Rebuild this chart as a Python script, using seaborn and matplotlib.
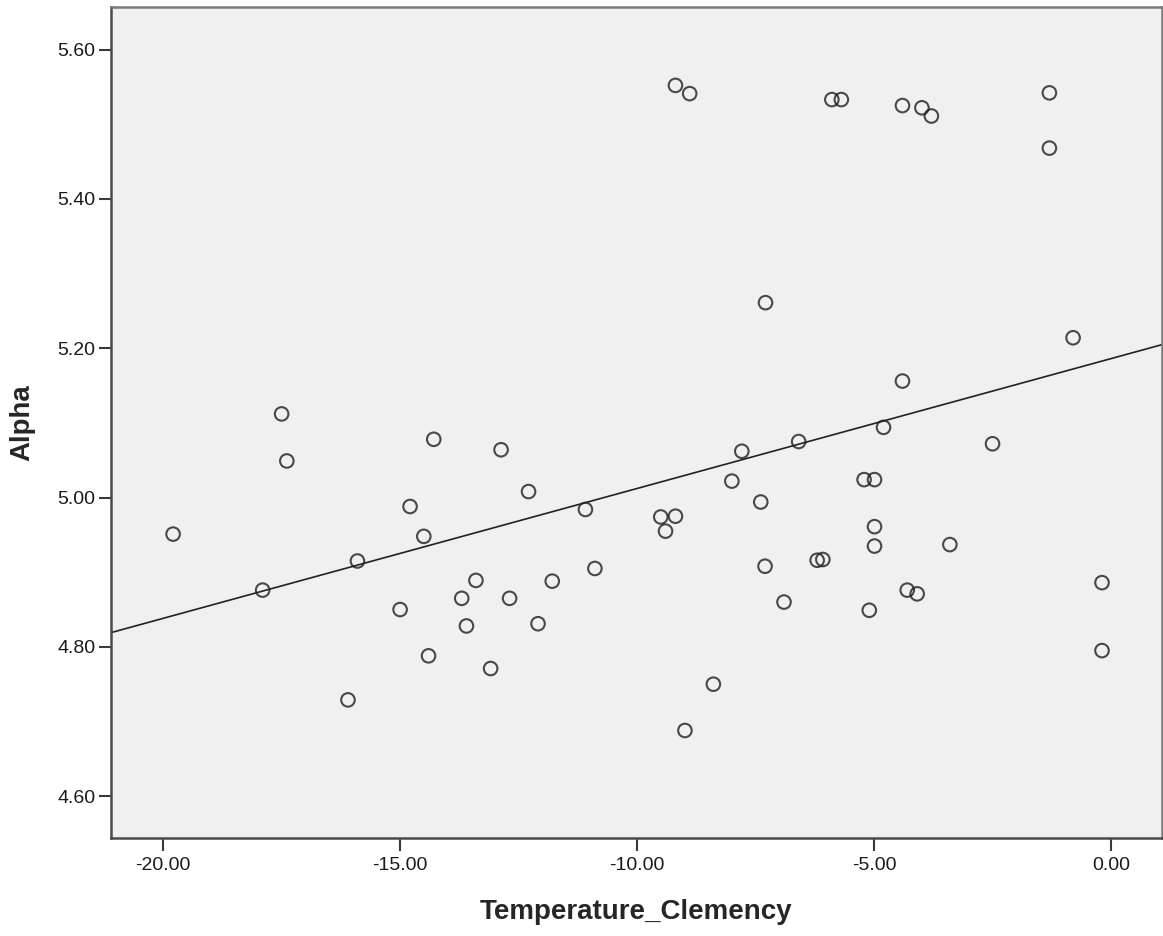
import matplotlib
matplotlib.use("Agg")
import matplotlib.pyplot as plt
import numpy as np
import pandas as pd
import seaborn as sns

# Observations
temperature_clemency = [
    -19.79, -17.90, -17.50, -17.39, -16.10, -15.90, -15.00, -14.79, -14.50, -14.40,
    -14.29, -13.70, -13.60, -13.40, -13.09, -12.87, -12.69, -12.29, -12.09, -11.79,
    -11.09, -10.89, -9.50, -9.40, -9.19, -9.19, -8.89, -8.99, -8.39, -8.00,
    -7.79, -7.39, -7.29, -7.30, -6.90, -6.59, -6.20, -6.08, -5.89, -5.69,
    -5.21, -5.10, -4.99, -4.99, -4.99, -4.80, -4.40, -4.40, -4.30, -4.09,
    -3.99, -3.79, -3.40, -2.50, -1.30, -1.30, -0.80, -0.19, -0.19,
]
alpha = [
    4.951, 4.876, 5.112, 5.049, 4.729, 4.915, 4.850, 4.988, 4.948, 4.788,
    5.078, 4.865, 4.828, 4.889, 4.771, 5.064, 4.865, 5.008, 4.831, 4.888,
    4.984, 4.905, 4.974, 4.955, 4.975, 5.552, 5.541, 4.688, 4.750, 5.022,
    5.062, 4.994, 5.261, 4.908, 4.860, 5.075, 4.916, 4.917, 5.533, 5.533,
    5.024, 4.849, 5.024, 4.961, 4.935, 5.094, 5.156, 5.525, 4.876, 4.871,
    5.522, 5.511, 4.937, 5.072, 5.542, 5.468, 5.214, 4.886, 4.795,
]

x_ticks = [-20.0, -15.0, -10.0, -5.0, 0.0]
y_ticks = [4.60, 4.80, 5.00, 5.20, 5.40, 5.60]

df = pd.DataFrame({"Temperature_Clemency": temperature_clemency, "Alpha": alpha})

sns.set_style("white")
plt.rcParams["font.family"] = ["Liberation Sans", "DejaVu Sans"]

W, H = 1163, 936
fig = plt.figure(figsize=(W / 100, H / 100), dpi=100)
fig.patch.set_facecolor("white")
left, right, top, bottom = 111, 1162, 7, 838
ax = fig.add_axes([left / W, (H - bottom) / H, (right - left) / W, (bottom - top) / H])
ax.set_facecolor("#f0f0f0")

ax.set_xlim(-21.10, 1.076)
ax.set_ylim(4.544, 5.657)

sns.regplot(
    data=df, x="Temperature_Clemency", y="Alpha", ax=ax,
    ci=None, truncate=False,
    scatter_kws=dict(s=95, facecolors="none", edgecolors="#1e1e1e", linewidths=1.5),
    line_kws=dict(color="#222222", linewidth=1.2),
)

ax.set_xticks(x_ticks)
ax.set_yticks(y_ticks)
ax.set_xticklabels([f"{v:.2f}" for v in x_ticks])
ax.set_yticklabels([f"{v:.2f}" for v in y_ticks])
ax.tick_params(axis="both", which="major", bottom=True, left=True, top=False, right=False,
               direction="out", length=9, width=1.5, color="#3a3a3a",
               labelsize=14, labelcolor="#1a1a1a")
ax.tick_params(axis="x", pad=5)
ax.tick_params(axis="y", pad=2)

for side in ["left", "bottom", "top", "right"]:
    ax.spines[side].set_visible(True)
    ax.spines[side].set_color("#4a4a4a")
    ax.spines[side].set_linewidth(1.8)
ax.spines["top"].set_color("#7a7a7a")
ax.spines["right"].set_color("#7a7a7a")

ax.set_xlabel("Temperature_Clemency", fontsize=20, fontweight="bold", labelpad=18)
ax.set_ylabel("Alpha", fontsize=20, fontweight="bold", labelpad=16)

fig.savefig("out.png", dpi=100)
